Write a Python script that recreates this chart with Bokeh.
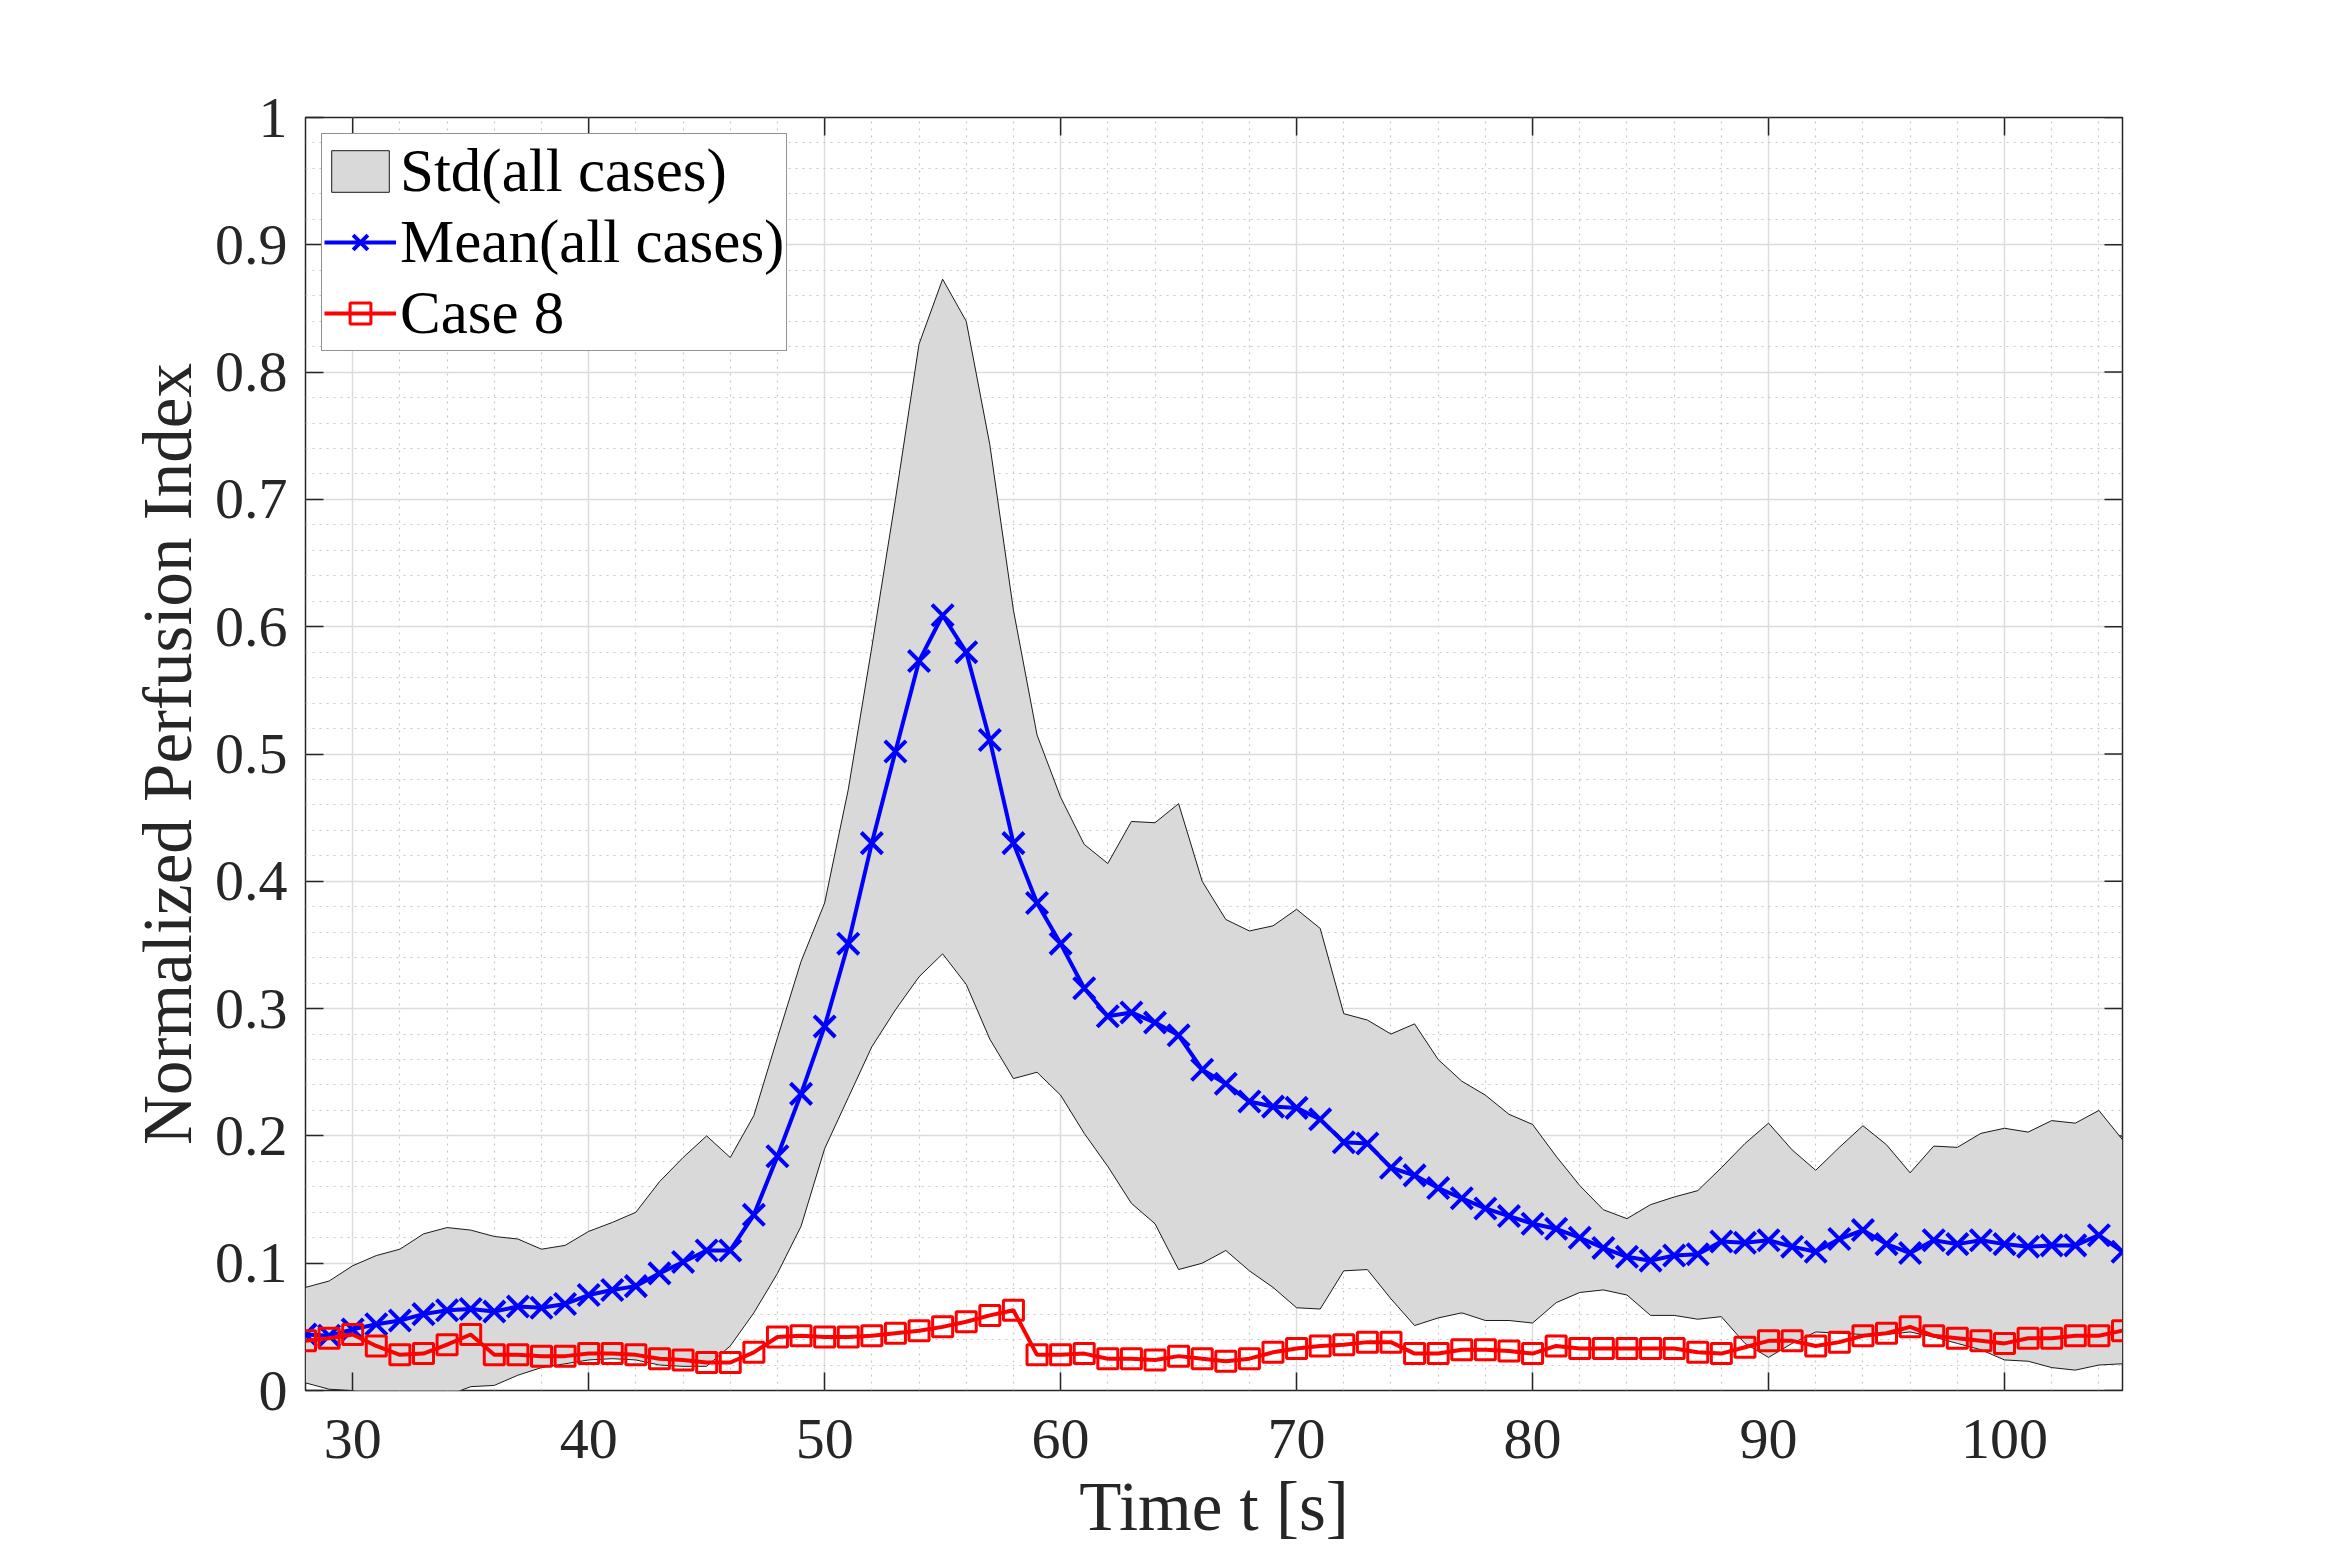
import math
from bokeh.plotting import figure
from bokeh.models import (FixedTicker, Legend, LegendItem,
                          CustomJSTickFormatter, Range1d)
from bokeh.embed import file_html
from bokeh.resources import INLINE

FONT = "'Liberation Serif', 'Times New Roman', serif"

# ---------------- data ----------------
time_s = list(range(28, 106))

mean_all = [0.044, 0.043, 0.048, 0.052, 0.055, 0.060, 0.063, 0.064, 0.062, 0.066,
            0.065, 0.068, 0.075, 0.079, 0.082, 0.092, 0.101, 0.110, 0.110, 0.138,
            0.184, 0.233, 0.286, 0.351, 0.430, 0.502, 0.573, 0.609, 0.580, 0.511,
            0.430, 0.383, 0.351, 0.316, 0.294, 0.297, 0.289, 0.279, 0.252, 0.241,
            0.227, 0.223, 0.222, 0.213, 0.195, 0.194, 0.175, 0.169, 0.159, 0.151,
            0.143, 0.137, 0.131, 0.127, 0.120, 0.112, 0.105, 0.102, 0.106, 0.107,
            0.117, 0.116, 0.118, 0.113, 0.109, 0.119, 0.126, 0.115, 0.108, 0.118,
            0.115, 0.118, 0.115, 0.113, 0.114, 0.114, 0.122, 0.109]

std_upper = [0.081, 0.086, 0.098, 0.106, 0.111, 0.123, 0.128, 0.126, 0.121, 0.119,
             0.111, 0.114, 0.125, 0.132, 0.140, 0.164, 0.183, 0.200, 0.183, 0.216,
             0.277, 0.337, 0.383, 0.472, 0.584, 0.700, 0.822, 0.873, 0.840, 0.743,
             0.613, 0.515, 0.466, 0.429, 0.414, 0.447, 0.446, 0.461, 0.400, 0.370,
             0.361, 0.365, 0.378, 0.363, 0.296, 0.291, 0.280, 0.288, 0.260, 0.243,
             0.232, 0.217, 0.209, 0.184, 0.161, 0.142, 0.135, 0.146, 0.152, 0.157,
             0.175, 0.194, 0.210, 0.189, 0.173, 0.191, 0.208, 0.193, 0.171, 0.192,
             0.191, 0.202, 0.206, 0.203, 0.212, 0.210, 0.220, 0.197]

std_lower = [0.006, 0.001, 0.000, -0.006, -0.010, -0.008, -0.004, 0.003, 0.004, 0.012,
             0.018, 0.021, 0.024, 0.025, 0.024, 0.020, 0.019, 0.019, 0.035, 0.061,
             0.092, 0.129, 0.190, 0.230, 0.270, 0.299, 0.325, 0.343, 0.319, 0.276,
             0.245, 0.250, 0.232, 0.202, 0.176, 0.147, 0.131, 0.095, 0.100, 0.110,
             0.094, 0.081, 0.065, 0.064, 0.094, 0.095, 0.072, 0.051, 0.057, 0.061,
             0.055, 0.055, 0.053, 0.069, 0.077, 0.079, 0.075, 0.059, 0.059, 0.056,
             0.058, 0.037, 0.026, 0.037, 0.046, 0.045, 0.044, 0.044, 0.046, 0.042,
             0.037, 0.032, 0.024, 0.023, 0.018, 0.016, 0.020, 0.021]

case8 = [0.039, 0.041, 0.044, 0.035, 0.028, 0.029, 0.036, 0.044, 0.028, 0.028,
         0.027, 0.027, 0.029, 0.029, 0.028, 0.025, 0.024, 0.022, 0.022, 0.030,
         0.042, 0.043, 0.042, 0.042, 0.043, 0.045, 0.047, 0.050, 0.054, 0.059,
         0.063, 0.028, 0.028, 0.029, 0.025, 0.025, 0.024, 0.027, 0.025, 0.023,
         0.025, 0.030, 0.033, 0.035, 0.036, 0.038, 0.038, 0.029, 0.029, 0.032,
         0.032, 0.031, 0.029, 0.035, 0.033, 0.033, 0.033, 0.033, 0.033, 0.030,
         0.029, 0.034, 0.039, 0.039, 0.035, 0.038, 0.043, 0.045, 0.050, 0.043,
         0.041, 0.039, 0.037, 0.041, 0.041, 0.043, 0.043, 0.047]

x_lim = (28, 105)
y_lim = (0, 1)
x_major = [30, 40, 50, 60, 70, 80, 90, 100]
x_minor = [v for v in range(28, 106, 2) if v not in x_major]
y_major = [round(i * 0.1, 1) for i in range(0, 11)]
y_minor = [round(i * 0.02, 2) for i in range(0, 51) if i % 5 != 0]

labels = ["Std(all cases)", "Mean(all cases)", "Case 8"]
x_title = "Time t [s]"
y_title = "Normalized Perfusion Index"

# ---------------- figure ----------------
p = figure(frame_width=1817, frame_height=1273,
           x_range=Range1d(*x_lim), y_range=Range1d(*y_lim),
           output_backend="svg", toolbar_location=None,
           min_border_left=305, min_border_top=117,
           min_border_right=190, min_border_bottom=150,
           background_fill_color="white", border_fill_color="white")

p.outline_line_color = "#262626"
p.outline_line_width = 1.5

AX = "#262626"
TICK_LEN = 18

for ax in (p.xaxis[0], p.yaxis[0]):
    ax.axis_line_color = None
    ax.major_tick_in = TICK_LEN
    ax.major_tick_out = 0
    ax.minor_tick_in = 0
    ax.minor_tick_out = 0
    ax.major_tick_line_color = AX
    ax.major_tick_line_width = 1.5
    ax.major_label_text_font = FONT
    ax.major_label_text_font_size = "58px"
    ax.major_label_text_color = AX
    ax.axis_label_text_font = FONT
    ax.axis_label_text_font_size = "69px"
    ax.axis_label_text_font_style = "normal"
    ax.axis_label_text_color = AX

p.xaxis.ticker = FixedTicker(ticks=x_major, minor_ticks=x_minor)
p.yaxis.ticker = FixedTicker(ticks=y_major, minor_ticks=y_minor)
p.yaxis.formatter = CustomJSTickFormatter(code="return String(Math.round(tick*10)/10);")
p.xaxis.major_label_standoff = 29
p.yaxis.major_label_standoff = 18
p.xaxis.axis_label = x_title
p.yaxis.axis_label = y_title
p.xaxis.axis_label_standoff = 8
p.yaxis.axis_label_standoff = 6

# grids
for g in (p.xgrid[0], p.ygrid[0]):
    g.grid_line_color = "#dcdcdc"
    g.grid_line_width = 1.5
    g.minor_grid_line_color = "#c8c8c8"
    g.minor_grid_line_width = 1.2
    g.minor_grid_line_dash = "2 5"

# box-style inward tick marks on the top and right edges
p.ray(x=x_major, y=[y_lim[1]] * len(x_major), length=TICK_LEN, length_units="screen",
      angle=-math.pi / 2, line_color=AX, line_width=1.5)
p.ray(x=[x_lim[1]] * len(y_major), y=y_major, length=TICK_LEN, length_units="screen",
      angle=math.pi, line_color=AX, line_width=1.5)

# ---------------- data glyphs ----------------
band_x = time_s + time_s[::-1]
band_y = std_upper + std_lower[::-1]
band = p.patch(band_x, band_y, fill_color="#d9d9d9", fill_alpha=1.0,
               line_color="#1a1a1a", line_width=1.0)

mean_line = p.line(time_s, mean_all, line_color="#0000ff", line_width=4)
mean_pts = p.scatter(time_s, mean_all, marker="x", size=30,
                     line_color="#0000ff", line_width=4)

case_line = p.line(time_s, case8, line_color="#ff0000", line_width=4)
case_pts = p.scatter(time_s, case8, marker="square", size=20,
                     line_color="#ff0000", line_width=3, fill_color=None)

legend = Legend(items=[
    LegendItem(label=labels[0], renderers=[band]),
    LegendItem(label=labels[1], renderers=[mean_line, mean_pts]),
    LegendItem(label=labels[2], renderers=[case_line, case_pts]),
], location="top_left")
legend.margin = 16
legend.padding = 2
legend.spacing = 1
legend.glyph_width = 72
legend.glyph_height = 52
legend.label_standoff = 4
legend.label_text_font = FONT
legend.label_text_font_size = "61px"
legend.label_text_color = "black"
legend.border_line_color = "#262626"
legend.border_line_width = 1.5
legend.background_fill_color = "white"
legend.background_fill_alpha = 1.0
p.add_layout(legend)

open("out.html", "w").write(file_html(p, INLINE))
